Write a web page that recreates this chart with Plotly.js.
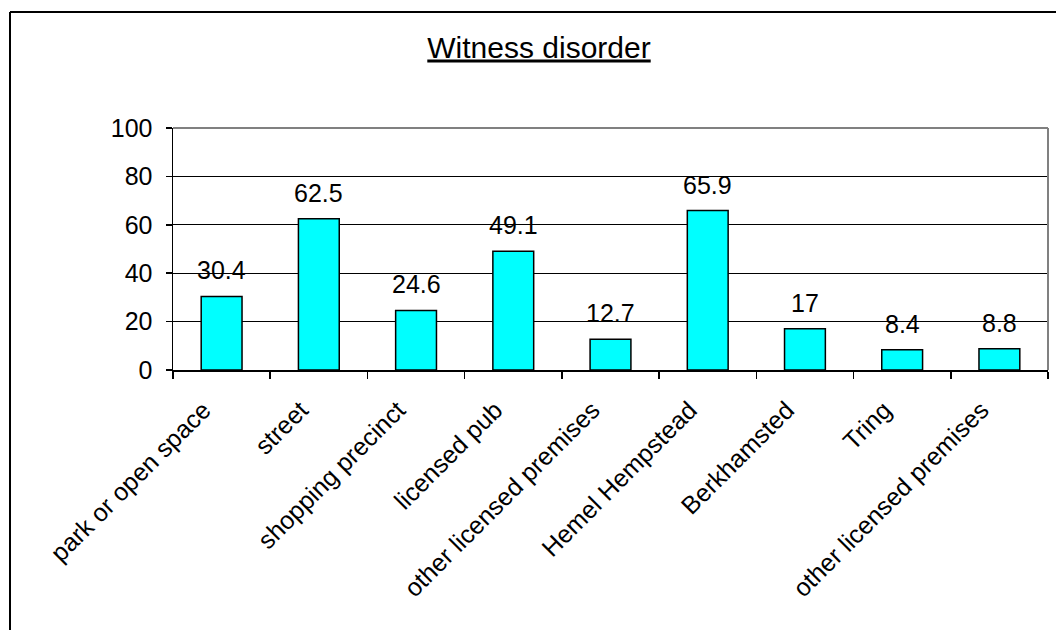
<!DOCTYPE html>
<html>
<head>
<meta charset="utf-8">
<script src="https://cdn.plot.ly/plotly-3.0.1.min.js"></script>
<style>
  html, body { margin: 0; padding: 0; background: #fff; }
  #chart { width: 1056px; height: 630px; }
</style>
</head>
<body>
<div id="chart"></div>
<script>
// Places where disorder was witnessed (%)
const categories = [
  'park or open space',
  'street',
  'shopping precinct',
  'licensed pub',
  'other licensed premises',
  'Hemel Hempstead',
  'Berkhamsted',
  'Tring',
  'other licensed premises'
];
const values = [30.4, 62.5, 24.6, 49.1, 12.7, 65.9, 17, 8.4, 8.8];
const valueLabels = ['30.4', '62.5', '24.6', '49.1', '12.7', '65.9', '17', '8.4', '8.8'];
const yTicks = [0, 20, 40, 60, 80, 100];

const positions = categories.map((_, i) => i);
const FONT = 'Arial, "Liberation Sans", sans-serif';

const W = 1056, H = 630;
const margin = { l: 173, r: 8, t: 128, b: 260 };
const plotW = W - margin.l - margin.r;
const plotH = H - margin.t - margin.b;
// convert pixel positions to paper coordinates
const px = x => (x - margin.l) / plotW;
const py = y => (H - margin.b - y) / plotH;

const trace = {
  type: 'bar',
  x: positions,
  y: values,
  width: 0.42,
  marker: { color: '#00FFFF', line: { color: '#000000', width: 1.5 } },
  hoverinfo: 'skip'
};

const annotations = positions.map((p, i) => ({
  x: p, y: values[i], xref: 'x', yref: 'y',
  text: valueLabels[i], showarrow: false,
  yanchor: 'bottom', yshift: 10,
  font: { family: FONT, size: 25, color: '#000' }
}));

const layout = {
  width: W, height: H,
  margin: margin,
  paper_bgcolor: '#ffffff',
  plot_bgcolor: '#ffffff',
  showlegend: false,
  font: { family: FONT, size: 25, color: '#000' },
  title: {
    text: '<u>Witness disorder</u>',
    font: { family: FONT, size: 30, color: '#000' },
    xref: 'container', yref: 'container',
    x: 539 / W, xanchor: 'center',
    y: 1 - 47 / H, yanchor: 'middle'
  },
  xaxis: {
    range: [-0.5, categories.length - 0.5],
    tickmode: 'array',
    tickvals: positions,
    ticktext: categories,
    ticks: '',
    tickangle: -45,
    ticklabelstandoff: 14,
    ticklabelshift: -18,
    showgrid: false,
    zeroline: false,
    showline: true, linecolor: '#000', linewidth: 1.5,
    minor: {
      tickmode: 'linear', tick0: -0.5, dtick: 1,
      ticks: 'outside', ticklen: 7, tickwidth: 1.5, tickcolor: '#000',
      showgrid: false
    },
    tickfont: { family: FONT, size: 25, color: '#000' },
    fixedrange: true
  },
  yaxis: {
    range: [0, 100],
    tickmode: 'array',
    tickvals: yTicks,
    ticks: 'outside', ticklen: 6, tickwidth: 1.5, tickcolor: '#000',
    ticklabelstandoff: 8,
    showgrid: true, gridcolor: '#000', gridwidth: 1.3,
    zeroline: false,
    showline: true, linecolor: '#000', linewidth: 1.5,
    tickfont: { family: FONT, size: 25, color: '#000' },
    fixedrange: true
  },
  annotations: annotations,
  shapes: [
    // plot-area border: top and right edges in grey
    { type: 'line', xref: 'paper', yref: 'paper', x0: 0, x1: 1, y0: 1, y1: 1,
      line: { color: '#808080', width: 2 } },
    { type: 'line', xref: 'paper', yref: 'paper', x0: 1, x1: 1, y0: 0, y1: 1,
      line: { color: '#808080', width: 2 } },
    // outer chart frame: left and top edges
    { type: 'line', xref: 'paper', yref: 'paper',
      x0: px(10), x1: px(10), y0: py(12), y1: py(H + 20),
      line: { color: '#000', width: 2 } },
    { type: 'line', xref: 'paper', yref: 'paper',
      x0: px(10), x1: px(W + 20), y0: py(12), y1: py(12),
      line: { color: '#000', width: 2 } }
  ]
};

Plotly.newPlot('chart', [trace], layout, { displayModeBar: false, staticPlot: true });
</script>
</body>
</html>
